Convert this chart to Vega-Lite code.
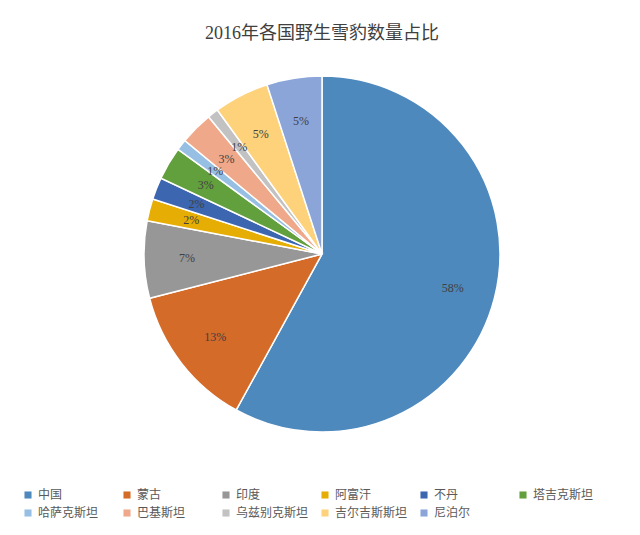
{
  "$schema": "https://vega.github.io/schema/vega-lite/v6.json",
  "width": 600,
  "height": 366,
  "padding": {"left": 22, "right": 18, "top": 25, "bottom": 4},
  "background": "white",
  "title": {
    "text": "2016年各国野生雪豹数量占比",
    "font": "Liberation Serif, Noto Sans CJK SC",
    "fontSize": 18,
    "fontWeight": "normal",
    "color": "#404040",
    "offset": 28
  },
  "data": {
    "values": [
      {"country": "中国", "pct": 58, "label": "58%", "order": 1},
      {"country": "蒙古", "pct": 13, "label": "13%", "order": 2},
      {"country": "印度", "pct": 7, "label": "7%", "order": 3},
      {"country": "阿富汗", "pct": 2, "label": "2%", "order": 4},
      {"country": "不丹", "pct": 2, "label": "2%", "order": 5},
      {"country": "塔吉克斯坦", "pct": 3, "label": "3%", "order": 6},
      {"country": "哈萨克斯坦", "pct": 1, "label": "1%", "order": 7},
      {"country": "巴基斯坦", "pct": 3, "label": "3%", "order": 8},
      {"country": "乌兹别克斯坦", "pct": 1, "label": "1%", "order": 9},
      {"country": "吉尔吉斯斯坦", "pct": 5, "label": "5%", "order": 10},
      {"country": "尼泊尔", "pct": 5, "label": "5%", "order": 11}
    ]
  },
  "encoding": {
    "theta": {"field": "pct", "type": "quantitative", "stack": true},
    "order": {"field": "order", "type": "quantitative"},
    "color": {
      "field": "country",
      "type": "nominal",
      "scale": {
        "domain": ["中国", "蒙古", "印度", "阿富汗", "不丹", "塔吉克斯坦", "哈萨克斯坦", "巴基斯坦", "乌兹别克斯坦", "吉尔吉斯斯坦", "尼泊尔"],
        "range": ["#4E89BE", "#D46B28", "#979797", "#E6AE05", "#3D66B0", "#62A03D", "#97BFE4", "#EFA889", "#C2C2C2", "#FDD27A", "#8CA5D8"]
      },
      "legend": {
        "title": null,
        "orient": "bottom",
        "direction": "horizontal",
        "columns": 6,
        "symbolType": "square",
        "symbolSize": 50,
        "symbolStrokeWidth": 0,
        "labelFont": "Noto Sans CJK SC",
        "labelFontSize": 12,
        "labelColor": "#595959",
        "columnPadding": 10,
        "rowPadding": 6,
        "gridAlign": "all",
        "offset": 52
      }
    }
  },
  "layer": [
    {
      "mark": {"type": "arc", "outerRadius": 178, "stroke": "white", "strokeWidth": 1.5}
    },
    {
      "mark": {"type": "text", "radius": 135, "font": "Liberation Serif", "fontSize": 12, "fill": "#404040"},
      "encoding": {
        "text": {"field": "label"},
        "color": {"value": "#404040"}
      }
    }
  ],
  "config": {"view": {"stroke": null}}
}
